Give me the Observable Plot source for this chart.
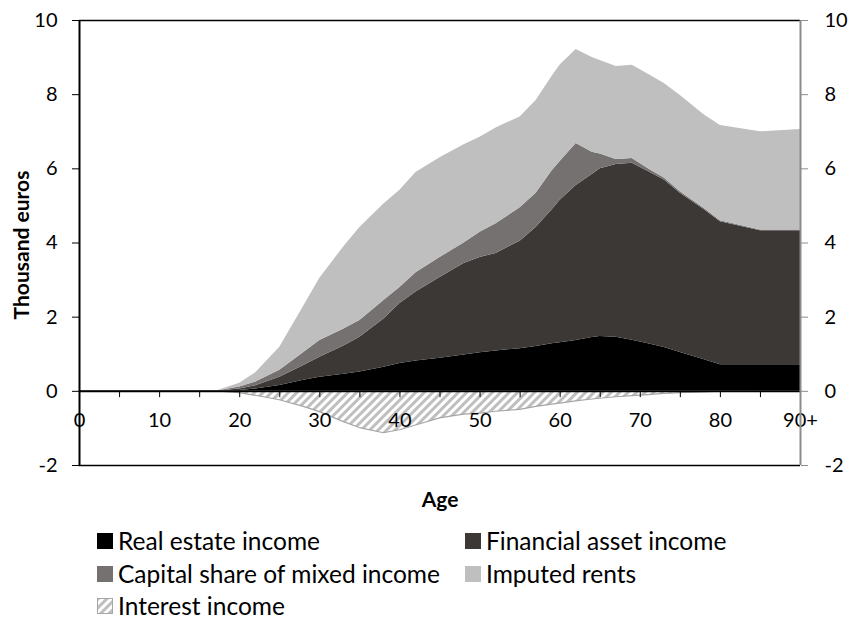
<!DOCTYPE html>
<html>
<head>
<meta charset="utf-8">
<script src="https://cdn.jsdelivr.net/npm/d3@7"></script>
<script src="https://cdn.jsdelivr.net/npm/@observablehq/plot@0.6"></script>
<style>
  body { margin: 0; background: #fff; font-family: Lato, "Open Sans", sans-serif; }
  #chart svg { display: block; }
  #legend { position: relative; width: 854px; height: 104px; font-size: 24.5px; color: #000; }
  .item { position: absolute; display: flex; align-items: center; height: 24px; line-height: 24px; white-space: nowrap; }
  .sw { width: 16px; height: 16px; margin-right: 5px; flex: none; }
</style>
</head>
<body>
<div id="chart"></div>
<div id="legend"></div>
<script>
// ---- data (thousand euros, by age) ----
const ages = [0,17,20,22,25,28,30,33,35,38,40,42,45,48,50,52,55,57,59,60,62,64,65,67,69,71,73,75,78,80,85,90];
const realEstate = [0,0,0.02,0.06,0.16,0.30,0.38,0.46,0.52,0.65,0.75,0.82,0.89,0.98,1.04,1.09,1.15,1.21,1.28,1.31,1.37,1.45,1.48,1.46,1.38,1.28,1.18,1.05,0.85,0.72,0.72,0.72];
const financial = [0,0,0.04,0.09,0.22,0.40,0.54,0.76,0.94,1.30,1.62,1.86,2.18,2.47,2.57,2.63,2.90,3.21,3.62,3.84,4.18,4.40,4.52,4.66,4.77,4.65,4.52,4.29,4.05,3.85,3.61,3.61];
const mixed = [0,0,0.06,0.10,0.19,0.35,0.45,0.46,0.45,0.50,0.43,0.52,0.54,0.55,0.68,0.80,0.90,0.92,1.05,1.05,1.13,0.60,0.40,0.13,0.13,0.07,0.05,0.04,0.03,0.03,0.02,0.02];
const imputed = [0,0,0.10,0.25,0.62,1.25,1.68,2.22,2.51,2.60,2.62,2.70,2.69,2.65,2.56,2.58,2.45,2.50,2.55,2.60,2.54,2.55,2.52,2.51,2.51,2.55,2.55,2.60,2.52,2.57,2.65,2.71];
const interest = [0,0,-0.05,-0.12,-0.24,-0.42,-0.56,-0.83,-0.99,-1.13,-1.05,-0.92,-0.73,-0.63,-0.60,-0.55,-0.50,-0.42,-0.36,-0.33,-0.27,-0.22,-0.20,-0.16,-0.13,-0.10,-0.07,-0.05,-0.03,-0.01,0,0];

const seriesNames = ["Real estate income", "Financial asset income", "Capital share of mixed income", "Imputed rents"];
const seriesColors = ["#000000", "#3b3836", "#767171", "#bfbfbf"];
const interestName = "Interest income";

const xTickMarks = [0,5,10,15,20,25,30,35,40,45,50,55,60,65,70,75,80,85,90];
const xTickValues = [0,10,20,30,40,50,60,70,80,90];
const xTickLabels = ["0","10","20","30","40","50","60","70","80","90+"];
const yTicks = [-2,0,2,4,6,8,10];

// ---- tables ----
const seriesArrays = [realEstate, financial, mixed, imputed];
const rows = [];
seriesNames.forEach((name, s) => {
  ages.forEach((a, i) => rows.push({age: a, series: name, value: seriesArrays[s][i]}));
});
const interestRows = ages.map((a, i) => ({age: a, value: interest[i]}));

const plot = Plot.plot({
  width: 854,
  height: 515,
  marginLeft: 79,
  marginRight: 54,
  marginTop: 20,
  marginBottom: 50,
  style: {fontFamily: "Lato, 'Open Sans', sans-serif", fontSize: "20px", color: "#000", background: "#fff"},
  x: {domain: [0, 90], axis: null},
  y: {domain: [-2, 10], label: null},
  color: {domain: seriesNames, range: seriesColors},
  marks: [
    Plot.areaY(rows, {x: "age", y: "value", fill: "series", z: "series", order: seriesNames}),
    Plot.areaY(interestRows, {x: "age", y1: 0, y2: "value", fill: "url(#hatch)", stroke: "#a6a6a6", strokeWidth: 1.2}),
    Plot.axisY(yTicks, {anchor: "left", tickSize: 7, tickPadding: 15, tickFormat: d => String(d), fontSize: 20, stroke: "#000", label: null}),
    Plot.axisY(yTicks, {anchor: "right", tickSize: 7, tickPadding: 17, tickFormat: d => String(d), fontSize: 20, stroke: "#8c8c8c", label: null}),
    Plot.text(xTickValues, {x: d => d, y: 0, text: (d, i) => xTickLabels[i], dy: 29, fontSize: 20, fill: "#000"}),
    Plot.text(["Age"], {frameAnchor: "bottom", lineAnchor: "middle", dy: 35, fontWeight: "bold", fontSize: 21, fill: "#000"}),
    Plot.text(["Thousand euros"], {frameAnchor: "left", textAnchor: "middle", lineAnchor: "middle", dx: -57, dy: 2, rotate: -90, fontWeight: "bold", fontSize: 21, fill: "#000"}),
    Plot.ruleX(xTickMarks, {y1: 0, y2: -0.17, stroke: "#000", strokeWidth: 1}),
    Plot.ruleY([10], {stroke: "#000", strokeWidth: 1.5}),
    Plot.ruleY([-2], {stroke: "#000", strokeWidth: 1.5}),
    Plot.ruleY([0], {stroke: "#000", strokeWidth: 2}),
    Plot.ruleX([90], {stroke: "#8c8c8c", strokeWidth: 2}),
    Plot.ruleX([0], {stroke: "#000", strokeWidth: 2})
  ]
});

// hatch pattern for interest income
const ns = "http://www.w3.org/2000/svg";
const defs = document.createElementNS(ns, "defs");
defs.innerHTML = '<pattern id="hatch" patternUnits="userSpaceOnUse" width="6" height="6" patternTransform="rotate(45)">' +
  '<rect width="6" height="6" fill="#ffffff"/><rect width="3" height="6" fill="#bfbfbf"/></pattern>';
plot.insertBefore(defs, plot.firstChild);
document.getElementById("chart").appendChild(plot);

// legend
const legend = document.getElementById("legend");
const items = [
  {name: seriesNames[0], color: seriesColors[0], left: 97, row: 0},
  {name: seriesNames[1], color: seriesColors[1], left: 465, row: 0},
  {name: seriesNames[2], color: seriesColors[2], left: 97, row: 1},
  {name: seriesNames[3], color: seriesColors[3], left: 465, row: 1},
  {name: interestName, color: null, left: 97, row: 2}
];
const rowTops = [14, 47, 79];
items.forEach(it => {
  const d = document.createElement("div");
  d.className = "item";
  d.style.left = it.left + "px";
  d.style.top = rowTops[it.row] + "px";
  let sw;
  if (it.color) {
    sw = `<span class="sw" style="background:${it.color}"></span>`;
  } else {
    sw = `<svg class="sw" width="16" height="16" viewBox="0 0 16 16"><defs><pattern id="hatch2" patternUnits="userSpaceOnUse" width="6" height="6" patternTransform="rotate(45)"><rect width="6" height="6" fill="#fff"/><rect width="3" height="6" fill="#bfbfbf"/></pattern></defs><rect x="0.5" y="0.5" width="15" height="15" fill="url(#hatch2)" stroke="#a6a6a6" stroke-width="1"/></svg>`;
  }
  d.innerHTML = sw + `<span>${it.name}</span>`;
  legend.appendChild(d);
});
</script>
</body>
</html>
